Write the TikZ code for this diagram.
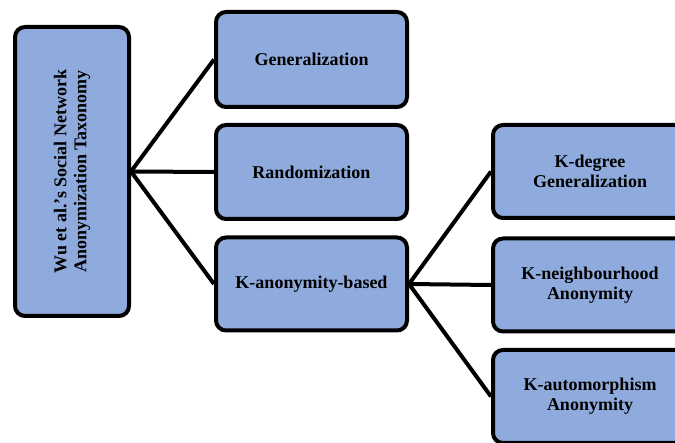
\documentclass[tikz,border=0pt]{standalone}
\usepackage{fontspec}
\setmainfont{Liberation Serif}
\usetikzlibrary{shapes}

\definecolor{boxblue}{RGB}{143,170,220}

\begin{document}
\begin{tikzpicture}[x=1pt,y=-1pt]
\tikzset{every node/.style={font=\bfseries\fontsize{18}{20}\selectfont,align=center}}
\tikzset{taxbox/.style={draw=black,fill=boxblue,line width=4pt,rounded corners=10pt,minimum width=191pt,minimum height=93pt,inner sep=0pt}}
\tikzset{branch/.style={line width=4pt}}
\useasboundingbox (0,0) rectangle (675,443);
\node[taxbox,rotate=90,minimum width=289pt,minimum height=114pt] (root) at (72,171.5) {Wu et al.’s Social Network\\Anonymization Taxonomy};
\node[taxbox,minimum height=95pt] (gen) at (311.5,59.5) {Generalization};
\node[taxbox,minimum height=94pt] (rand) at (311.5,172) {Randomization};
\node[taxbox,minimum height=93pt] (kanon) at (311.5,284) {K-anonymity-based};
\node[taxbox,minimum width=194pt] (kdeg) at (590,171.5) {K-degree\\Generalization};
\node[taxbox,minimum width=194pt] (knbr) at (590,285) {K-neighbourhood\\Anonymity};
\node[taxbox,minimum width=194pt] (kaut) at (590,396.5) {K-automorphism\\Anonymity};
\draw[branch] (root.south) -- (gen.west);
\draw[branch] (root.south) -- (rand.west);
\draw[branch] (root.south) -- (kanon.west);
\draw[branch] (kanon.east) -- (kdeg.west);
\draw[branch] (kanon.east) -- (knbr.west);
\draw[branch] (kanon.east) -- (kaut.west);
\end{tikzpicture}
\end{document}
